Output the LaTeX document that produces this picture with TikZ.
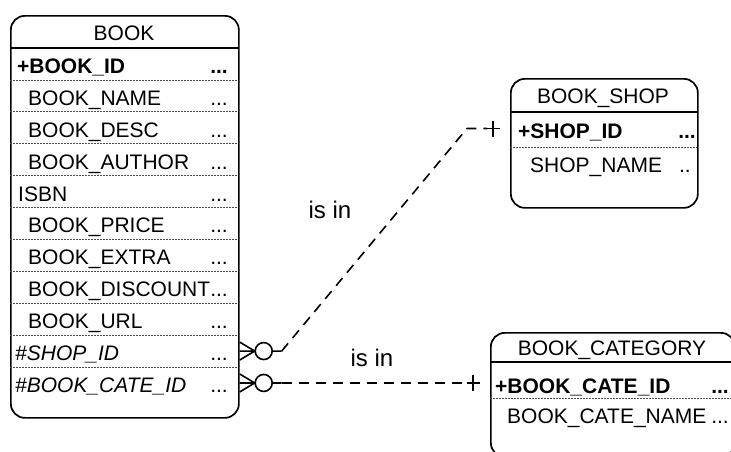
\documentclass[tikz,border=0pt]{standalone}
\usepackage{fontspec}
\setmainfont{Liberation Sans}
\newcommand\erfont{\fontsize{21}{25}\selectfont}

\begin{document}
\begin{tikzpicture}[x=1pt, y=-1pt, line join=round,
  every node/.style={font=\erfont, inner sep=0pt},
  entity/.style={draw, line width=1.7pt, rounded corners=14pt, anchor=north west},
  title/.style={text height=17pt, text depth=0pt},
  field/.style={anchor=west, text height=19pt, text depth=0pt},
  key/.style={field, font=\erfont\bfseries},
  fkey/.style={field, font=\erfont\itshape},
  more/.style={field, anchor=east},
  rellabel/.style={font=\fontsize{24}{28}\selectfont},
  headline/.style={line width=1.1pt},
  rowline/.style={black!70, line width=0.8pt, dash pattern=on 2pt off 1pt},
  rel/.style={line width=1.6pt, dash pattern=on 10pt off 7pt},
  tipline/.style={line width=1.6pt},
  zeromany/.pic={\draw[tipline] (15,0) -- (0,-9) (15,0) -- (0,0) (15,0) -- (0,9)
    (24,0) circle[radius=8.5] (32.5,0) -- (42,0);},
  onemark/.pic={\draw[tipline] (-23,0) -- (-10,0) (-17,-8) -- (-17,8);}]
\useasboundingbox (0,0) rectangle (731,451);
% BOOK
\node[entity, minimum width=228pt, minimum height=402pt] (book) at (10,15) {};
\node[title] (book-t) at (124,31.5) {BOOK};
\draw[headline] (10,48) -- (238,48);
\node[key] (book-r1) at (17,{48+31.9*0.5}) {+BOOK\_ID};
\foreach \x/\txt [count=\i from 2] in {28/BOOK\_NAME, 28/BOOK\_DESC, 28/BOOK\_AUTHOR, 18/ISBN,
    28/BOOK\_PRICE, 28/BOOK\_EXTRA, 28/BOOK\_DISCOUNT, 28/BOOK\_URL}
  \node[field] (book-r\i) at (\x,{48+31.9*(\i-0.5)}) {\txt};
\node[fkey] (book-r10) at (15,{48+31.9*9.5}) {\#SHOP\_ID};
\node[fkey] (book-r11) at (15,{48+31.9*10.5}) {\#BOOK\_CATE\_ID};
\node[more, font=\erfont\bfseries] (book-d1) at (228,{48+31.9*0.5}) {...};
\foreach \i in {2,...,11}
  \node[more] (book-d\i) at (228,{48+31.9*(\i-0.5)}) {...};
\foreach \i in {1,...,10}
  \draw[rowline] (10,{48+31.9*\i}) -- (238,{48+31.9*\i});
% BOOK_SHOP
\node[entity, minimum width=187pt, minimum height=129pt] (shop) at (510,78) {};
\node[title] (shop-t) at (603,95) {BOOK\_SHOP};
\draw[headline] (510,112) -- (697,112);
\node[key] (shop-r1) at (518,128.5) {+SHOP\_ID};
\node[field] (shop-r2) at (530,162.5) {SHOP\_NAME};
\node[more, font=\erfont\bfseries] (shop-d1) at (696,128.5) {...};
\node[more] (shop-d2) at (691,162.5) {..};
\draw[rowline] (510,147) -- (697,147);
% BOOK_CATEGORY
\node[entity, minimum width=244pt, minimum height=124pt] (cate) at (490,332) {};
\node[title] (cate-t) at (612,347) {BOOK\_CATEGORY};
\draw[headline] (490,362) -- (734,362);
\node[key] (cate-r1) at (495,384) {+BOOK\_CATE\_ID};
\node[field] (cate-r2) at (507,413.5) {BOOK\_CATE\_NAME};
\node[more, font=\erfont\bfseries] (cate-d1) at (729,384) {...};
\node[more] (cate-d2) at (729,413.5) {...};
\draw[rowline] (490,398) -- (734,398);
% is in: BOOK -> BOOK_SHOP
\coordinate (shop-fk) at (book.east |- book-r10);
\coordinate (shop-pk) at (shop.west |- shop-r1);
\pic at (shop-fk) {zeromany};
\draw[rel] ([xshift=42pt]shop-fk) -- (467,128.5) -- ([xshift=-23pt]shop-pk);
\pic at (shop-pk) {onemark};
\node[rellabel] (shop-rel) at (330,210) {is in};
% is in: BOOK -> BOOK_CATEGORY
\coordinate (cate-fk) at (book.east |- book-r11);
\coordinate (cate-pk) at (cate.west |- cate-fk);
\pic at (cate-fk) {zeromany};
\draw[rel] ([xshift=42pt]cate-fk) -- ([xshift=-23pt]cate-pk);
\pic at (cate-pk) {onemark};
\node[rellabel] (cate-rel) at (372,358) {is in};
\end{tikzpicture}
\end{document}
